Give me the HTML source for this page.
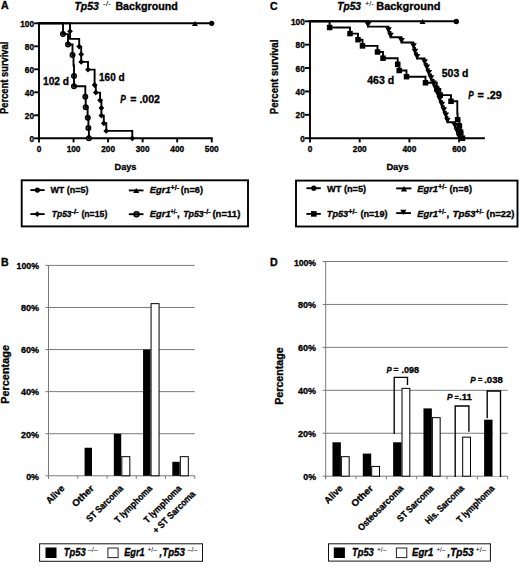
<!DOCTYPE html>
<html><head><meta charset="utf-8"><style>
html,body{margin:0;padding:0;background:#fff;width:520px;height:567px;overflow:hidden}
svg{display:block;font-family:"Liberation Sans", sans-serif}
</style></head><body>
<svg width="520" height="567" viewBox="0 0 520 567">
<rect width="520" height="567" fill="#fff"/>
<text x="1.00" y="9.40" font-size="10.6" font-weight="bold" stroke="#000" stroke-width="0.32">A</text>
<text x="74.40" y="9.80" font-size="10.6" font-weight="bold" font-style="italic" textLength="24.40" lengthAdjust="spacingAndGlyphs" stroke="#000" stroke-width="0.32">Tp53</text>
<text x="102.70" y="6.40" font-size="7.0" font-weight="normal" textLength="8.40" lengthAdjust="spacingAndGlyphs">-/-</text>
<text x="115.40" y="9.80" font-size="10.6" font-weight="bold" textLength="62.40" lengthAdjust="spacingAndGlyphs" stroke="#000" stroke-width="0.32">Background</text>
<path d="M39.0 23.3V138.3H211.75" stroke="#000" stroke-width="1.9" fill="none" stroke-linejoin="miter" stroke-linecap="square"/>
<line x1="34.20" y1="138.30" x2="39.00" y2="138.30" stroke="#000" stroke-width="1.9"/>
<text x="34.00" y="141.80" font-size="8.3" font-weight="bold" text-anchor="end" stroke="#000" stroke-width="0.32">0</text>
<line x1="34.20" y1="115.30" x2="39.00" y2="115.30" stroke="#000" stroke-width="1.9"/>
<text x="34.00" y="118.80" font-size="8.3" font-weight="bold" text-anchor="end" stroke="#000" stroke-width="0.32">20</text>
<line x1="34.20" y1="92.30" x2="39.00" y2="92.30" stroke="#000" stroke-width="1.9"/>
<text x="34.00" y="95.80" font-size="8.3" font-weight="bold" text-anchor="end" stroke="#000" stroke-width="0.32">40</text>
<line x1="34.20" y1="69.30" x2="39.00" y2="69.30" stroke="#000" stroke-width="1.9"/>
<text x="34.00" y="72.80" font-size="8.3" font-weight="bold" text-anchor="end" stroke="#000" stroke-width="0.32">60</text>
<line x1="34.20" y1="46.30" x2="39.00" y2="46.30" stroke="#000" stroke-width="1.9"/>
<text x="34.00" y="49.80" font-size="8.3" font-weight="bold" text-anchor="end" stroke="#000" stroke-width="0.32">80</text>
<line x1="34.20" y1="23.30" x2="39.00" y2="23.30" stroke="#000" stroke-width="1.9"/>
<text x="34.00" y="26.80" font-size="8.3" font-weight="bold" text-anchor="end" stroke="#000" stroke-width="0.32">100</text>
<line x1="39.00" y1="138.30" x2="39.00" y2="142.40" stroke="#000" stroke-width="1.9"/>
<text x="39.00" y="152.00" font-size="8.3" font-weight="bold" text-anchor="middle" stroke="#000" stroke-width="0.32">0</text>
<line x1="73.55" y1="138.30" x2="73.55" y2="142.40" stroke="#000" stroke-width="1.9"/>
<text x="73.55" y="152.00" font-size="8.3" font-weight="bold" text-anchor="middle" stroke="#000" stroke-width="0.32">100</text>
<line x1="108.10" y1="138.30" x2="108.10" y2="142.40" stroke="#000" stroke-width="1.9"/>
<text x="108.10" y="152.00" font-size="8.3" font-weight="bold" text-anchor="middle" stroke="#000" stroke-width="0.32">200</text>
<line x1="142.65" y1="138.30" x2="142.65" y2="142.40" stroke="#000" stroke-width="1.9"/>
<text x="142.65" y="152.00" font-size="8.3" font-weight="bold" text-anchor="middle" stroke="#000" stroke-width="0.32">300</text>
<line x1="177.20" y1="138.30" x2="177.20" y2="142.40" stroke="#000" stroke-width="1.9"/>
<text x="177.20" y="152.00" font-size="8.3" font-weight="bold" text-anchor="middle" stroke="#000" stroke-width="0.32">400</text>
<line x1="211.75" y1="138.30" x2="211.75" y2="142.40" stroke="#000" stroke-width="1.9"/>
<text x="211.75" y="152.00" font-size="8.3" font-weight="bold" text-anchor="middle" stroke="#000" stroke-width="0.32">500</text>
<text x="125.50" y="169.60" font-size="9.9" font-weight="bold" text-anchor="middle" textLength="21.90" lengthAdjust="spacingAndGlyphs" stroke="#000" stroke-width="0.32">Days</text>
<text x="8.30" y="77.80" font-size="10.2" font-weight="bold" text-anchor="middle" textLength="72.20" lengthAdjust="spacingAndGlyphs" stroke="#000" stroke-width="0.32" transform="rotate(-90 8.30 77.80)">Percent survival</text>
<text x="43.00" y="84.50" font-size="10.3" font-weight="bold" textLength="26.00" lengthAdjust="spacingAndGlyphs" stroke="#000" stroke-width="0.32">102 d</text>
<text x="99.00" y="80.70" font-size="10.3" font-weight="bold" textLength="25.60" lengthAdjust="spacingAndGlyphs" stroke="#000" stroke-width="0.32">160 d</text>
<text x="120.20" y="102.50" font-size="10.3" font-weight="bold" font-style="italic" textLength="5.60" lengthAdjust="spacingAndGlyphs" stroke="#000" stroke-width="0.32">P</text>
<text x="130.30" y="102.50" font-size="10.3" font-weight="bold" textLength="29.70" lengthAdjust="spacingAndGlyphs" stroke="#000" stroke-width="0.32">= .002</text>
<line x1="39.00" y1="23.30" x2="212.00" y2="23.30" stroke="#000" stroke-width="1.9"/>
<path d="M191.90 26.00L197.90 26.00L194.90 20.90Z" fill="#000"/>
<circle cx="211.70" cy="23.30" r="2.6" fill="#000"/>
<path d="M39 23.3H70V38.9H79.2V46.6H81.2V61.9H88V69.6H94.6V85H95.8V92.6H100.1V100.3H101.4V115.6H103.8V123.3H106.3V130.9H132.3V138.3" stroke="#000" stroke-width="1.9" fill="none" stroke-linejoin="miter" stroke-linecap="square"/>
<circle cx="63.00" cy="34.10" r="2.3" fill="#6a6a6a" stroke="#000" stroke-width="1.4"/>
<circle cx="68.00" cy="44.50" r="2.3" fill="#6a6a6a" stroke="#000" stroke-width="1.4"/>
<circle cx="72.50" cy="55.00" r="2.3" fill="#6a6a6a" stroke="#000" stroke-width="1.4"/>
<circle cx="74.00" cy="75.90" r="2.3" fill="#6a6a6a" stroke="#000" stroke-width="1.4"/>
<circle cx="74.00" cy="86.30" r="2.3" fill="#6a6a6a" stroke="#000" stroke-width="1.4"/>
<circle cx="85.30" cy="96.70" r="2.3" fill="#6a6a6a" stroke="#000" stroke-width="1.4"/>
<circle cx="85.70" cy="107.20" r="2.3" fill="#6a6a6a" stroke="#000" stroke-width="1.4"/>
<circle cx="87.80" cy="117.70" r="2.3" fill="#6a6a6a" stroke="#000" stroke-width="1.4"/>
<circle cx="88.40" cy="128.10" r="2.3" fill="#6a6a6a" stroke="#000" stroke-width="1.4"/>
<circle cx="88.90" cy="138.30" r="2.3" fill="#6a6a6a" stroke="#000" stroke-width="1.4"/>
<path d="M39 23.3H63V34.1H68V44.5H72.5V55H73.5V65.5H74V86.3H85.3V96.7H85.7V107.2H87.6V117.7H88.4V128.1H88.9V138.3" stroke="#000" stroke-width="1.9" fill="none" stroke-linejoin="miter" stroke-linecap="square"/>
<path d="M70.00 28.40L72.90 31.30L70.00 34.20L67.10 31.30Z" fill="#000"/>
<path d="M79.20 43.70L82.10 46.60L79.20 49.50L76.30 46.60Z" fill="#000"/>
<path d="M81.20 51.40L84.10 54.30L81.20 57.20L78.30 54.30Z" fill="#000"/>
<path d="M81.20 59.00L84.10 61.90L81.20 64.80L78.30 61.90Z" fill="#000"/>
<path d="M88.00 66.70L90.90 69.60L88.00 72.50L85.10 69.60Z" fill="#000"/>
<path d="M94.60 82.10L97.50 85.00L94.60 87.90L91.70 85.00Z" fill="#000"/>
<path d="M95.80 89.70L98.70 92.60L95.80 95.50L92.90 92.60Z" fill="#000"/>
<path d="M100.10 97.40L103.00 100.30L100.10 103.20L97.20 100.30Z" fill="#000"/>
<path d="M101.40 105.00L104.30 107.90L101.40 110.80L98.50 107.90Z" fill="#000"/>
<path d="M101.40 112.70L104.30 115.60L101.40 118.50L98.50 115.60Z" fill="#000"/>
<path d="M103.80 120.40L106.70 123.30L103.80 126.20L100.90 123.30Z" fill="#000"/>
<path d="M106.30 128.00L109.20 130.90L106.30 133.80L103.40 130.90Z" fill="#000"/>
<path d="M132.30 135.40L135.20 138.30L132.30 141.20L129.40 138.30Z" fill="#000"/>
<rect x="21.70" y="180.30" width="226.30" height="46.10" fill="none" stroke="#000" stroke-width="1.9"/>
<line x1="30.40" y1="190.10" x2="44.60" y2="190.10" stroke="#000" stroke-width="1.9"/>
<circle cx="37.40" cy="190.10" r="2.6" fill="#000"/>
<text x="50.40" y="193.30" font-size="9.6" font-weight="bold" textLength="38.20" lengthAdjust="spacingAndGlyphs" stroke="#000" stroke-width="0.32">WT (n=5)</text>
<line x1="30.40" y1="214.10" x2="44.60" y2="214.10" stroke="#000" stroke-width="1.9"/>
<path d="M37.30 211.30L40.10 214.10L37.30 216.90L34.50 214.10Z" fill="#000"/>
<text x="51.80" y="217.10" font-size="9.6" font-weight="bold" font-style="italic" textLength="19.80" lengthAdjust="spacingAndGlyphs" stroke="#000" stroke-width="0.32">Tp53</text>
<text x="71.40" y="213.90" font-size="6.4" font-weight="bold" textLength="7.20" lengthAdjust="spacingAndGlyphs" stroke="#000" stroke-width="0.32">-/-</text>
<text x="81.40" y="217.10" font-size="9.6" font-weight="bold" textLength="25.90" lengthAdjust="spacingAndGlyphs" stroke="#000" stroke-width="0.32">(n=15)</text>
<line x1="128.80" y1="190.40" x2="143.50" y2="190.40" stroke="#000" stroke-width="1.9"/>
<path d="M133.20 193.10L139.20 193.10L136.20 188.00Z" fill="#000"/>
<text x="149.80" y="193.30" font-size="9.6" font-weight="bold" font-style="italic" textLength="20.80" lengthAdjust="spacingAndGlyphs" stroke="#000" stroke-width="0.32">Egr1</text>
<text x="170.60" y="190.30" font-size="6.4" font-weight="bold" textLength="8.40" lengthAdjust="spacingAndGlyphs" stroke="#000" stroke-width="0.32">+/-</text>
<text x="180.80" y="193.30" font-size="9.6" font-weight="bold" textLength="22.20" lengthAdjust="spacingAndGlyphs" stroke="#000" stroke-width="0.32">(n=6)</text>
<circle cx="136.50" cy="214.20" r="2.6" fill="#6a6a6a" stroke="#000" stroke-width="1.4"/>
<line x1="128.80" y1="214.20" x2="143.50" y2="214.20" stroke="#000" stroke-width="1.9"/>
<text x="149.80" y="216.90" font-size="9.6" font-weight="bold" font-style="italic" textLength="20.80" lengthAdjust="spacingAndGlyphs" stroke="#000" stroke-width="0.32">Egr1</text>
<text x="170.60" y="213.90" font-size="6.4" font-weight="bold" textLength="6.60" lengthAdjust="spacingAndGlyphs" stroke="#000" stroke-width="0.32">+/-</text>
<text x="177.00" y="216.90" font-size="9.6" font-weight="bold" stroke="#000" stroke-width="0.32">,</text>
<text x="183.20" y="216.90" font-size="9.6" font-weight="bold" font-style="italic" textLength="20.60" lengthAdjust="spacingAndGlyphs" stroke="#000" stroke-width="0.32">Tp53</text>
<text x="203.80" y="213.90" font-size="6.4" font-weight="bold" textLength="6.80" lengthAdjust="spacingAndGlyphs" stroke="#000" stroke-width="0.32">-/-</text>
<text x="212.40" y="216.90" font-size="9.6" font-weight="bold" textLength="28.00" lengthAdjust="spacingAndGlyphs" stroke="#000" stroke-width="0.32">(n=11)</text>
<text x="270.00" y="9.60" font-size="10.6" font-weight="bold" stroke="#000" stroke-width="0.32">C</text>
<text x="337.20" y="9.60" font-size="10.8" font-weight="bold" font-style="italic" textLength="23.80" lengthAdjust="spacingAndGlyphs" stroke="#000" stroke-width="0.32">Tp53</text>
<text x="365.00" y="5.90" font-size="6.8" font-weight="normal" textLength="8.80" lengthAdjust="spacingAndGlyphs">+/-</text>
<text x="376.20" y="9.60" font-size="10.8" font-weight="bold" textLength="64.20" lengthAdjust="spacingAndGlyphs" stroke="#000" stroke-width="0.32">Background</text>
<path d="M310.0 21.3V138.2H483.95" stroke="#000" stroke-width="1.9" fill="none" stroke-linejoin="miter" stroke-linecap="square"/>
<line x1="305.00" y1="138.20" x2="310.00" y2="138.20" stroke="#000" stroke-width="1.9"/>
<text x="304.80" y="141.70" font-size="8.3" font-weight="bold" text-anchor="end" stroke="#000" stroke-width="0.32">0</text>
<line x1="305.00" y1="114.82" x2="310.00" y2="114.82" stroke="#000" stroke-width="1.9"/>
<text x="304.80" y="118.32" font-size="8.3" font-weight="bold" text-anchor="end" stroke="#000" stroke-width="0.32">20</text>
<line x1="305.00" y1="91.44" x2="310.00" y2="91.44" stroke="#000" stroke-width="1.9"/>
<text x="304.80" y="94.94" font-size="8.3" font-weight="bold" text-anchor="end" stroke="#000" stroke-width="0.32">40</text>
<line x1="305.00" y1="68.06" x2="310.00" y2="68.06" stroke="#000" stroke-width="1.9"/>
<text x="304.80" y="71.56" font-size="8.3" font-weight="bold" text-anchor="end" stroke="#000" stroke-width="0.32">60</text>
<line x1="305.00" y1="44.68" x2="310.00" y2="44.68" stroke="#000" stroke-width="1.9"/>
<text x="304.80" y="48.18" font-size="8.3" font-weight="bold" text-anchor="end" stroke="#000" stroke-width="0.32">80</text>
<line x1="305.00" y1="21.30" x2="310.00" y2="21.30" stroke="#000" stroke-width="1.9"/>
<text x="304.80" y="24.80" font-size="8.3" font-weight="bold" text-anchor="end" stroke="#000" stroke-width="0.32">100</text>
<line x1="310.00" y1="138.20" x2="310.00" y2="142.40" stroke="#000" stroke-width="1.9"/>
<text x="310.00" y="152.10" font-size="8.3" font-weight="bold" text-anchor="middle" stroke="#000" stroke-width="0.32">0</text>
<line x1="359.70" y1="138.20" x2="359.70" y2="142.40" stroke="#000" stroke-width="1.9"/>
<text x="359.70" y="152.10" font-size="8.3" font-weight="bold" text-anchor="middle" stroke="#000" stroke-width="0.32">200</text>
<line x1="409.40" y1="138.20" x2="409.40" y2="142.40" stroke="#000" stroke-width="1.9"/>
<text x="409.40" y="152.10" font-size="8.3" font-weight="bold" text-anchor="middle" stroke="#000" stroke-width="0.32">400</text>
<line x1="459.10" y1="138.20" x2="459.10" y2="142.40" stroke="#000" stroke-width="1.9"/>
<text x="459.10" y="152.10" font-size="8.3" font-weight="bold" text-anchor="middle" stroke="#000" stroke-width="0.32">600</text>
<text x="397.50" y="170.00" font-size="9.9" font-weight="bold" text-anchor="middle" textLength="22.20" lengthAdjust="spacingAndGlyphs" stroke="#000" stroke-width="0.32">Days</text>
<text x="278.10" y="76.90" font-size="10.2" font-weight="bold" text-anchor="middle" textLength="74.60" lengthAdjust="spacingAndGlyphs" stroke="#000" stroke-width="0.32" transform="rotate(-90 278.10 76.90)">Percent survival</text>
<text x="367.20" y="84.20" font-size="10.3" font-weight="bold" textLength="27.00" lengthAdjust="spacingAndGlyphs" stroke="#000" stroke-width="0.32">463 d</text>
<text x="441.80" y="76.50" font-size="10.3" font-weight="bold" textLength="26.70" lengthAdjust="spacingAndGlyphs" stroke="#000" stroke-width="0.32">503 d</text>
<text x="468.20" y="98.50" font-size="10.3" font-weight="bold" font-style="italic" textLength="5.40" lengthAdjust="spacingAndGlyphs" stroke="#000" stroke-width="0.32">P</text>
<text x="477.40" y="98.50" font-size="10.3" font-weight="bold" textLength="24.40" lengthAdjust="spacingAndGlyphs" stroke="#000" stroke-width="0.32">= .29</text>
<line x1="310.00" y1="21.30" x2="456.30" y2="21.30" stroke="#000" stroke-width="1.9"/>
<path d="M419.50 24.00L425.50 24.00L422.50 18.90Z" fill="#000"/>
<circle cx="456.30" cy="21.50" r="2.7" fill="#000"/>
<path d="M310.0 21.3H329.6V27.5H350V33.6H358V39.7H362.5V45.9H377.5V52.0H383V58.2H397.7V64.3H399.2V70.5H406.5V76.7H425.5V82.8H436.8V89.0H440.3V95.1H451V101.3H457.3V107.4H457.3V113.6H457.6V119.7H459.4V125.9H460.5V132.0H462.5V138.2" stroke="#000" stroke-width="1.9" fill="none" stroke-linejoin="miter" stroke-linecap="square"/>
<path d="M310.0 21.3H368V26.6H388.5V31.9H390.5V37.2H401.5V42.5H413.5V47.9H415V53.2H417V58.5H424.6V63.8H426.8V69.1H428.8V74.5H431V79.8H433.5V85.1H435.8V90.4H437.8V95.7H439.8V101H441.8V106.3H443.8V111.7H445.8V117H447.4V122.3H455V127.6H457V132.9H459V138.2" stroke="#000" stroke-width="1.9" fill="none" stroke-linejoin="miter" stroke-linecap="square"/>
<rect x="326.85" y="24.75" width="5.50" height="5.50" fill="#000"/>
<rect x="347.25" y="30.85" width="5.50" height="5.50" fill="#000"/>
<rect x="355.25" y="36.95" width="5.50" height="5.50" fill="#000"/>
<rect x="359.75" y="43.15" width="5.50" height="5.50" fill="#000"/>
<rect x="374.75" y="49.25" width="5.50" height="5.50" fill="#000"/>
<rect x="380.25" y="55.45" width="5.50" height="5.50" fill="#000"/>
<rect x="394.95" y="61.55" width="5.50" height="5.50" fill="#000"/>
<rect x="396.45" y="67.75" width="5.50" height="5.50" fill="#000"/>
<rect x="403.75" y="73.95" width="5.50" height="5.50" fill="#000"/>
<rect x="422.75" y="80.05" width="5.50" height="5.50" fill="#000"/>
<rect x="434.05" y="86.25" width="5.50" height="5.50" fill="#000"/>
<rect x="437.55" y="92.35" width="5.50" height="5.50" fill="#000"/>
<rect x="448.25" y="98.55" width="5.50" height="5.50" fill="#000"/>
<rect x="454.85" y="116.95" width="5.50" height="5.50" fill="#000"/>
<rect x="456.65" y="123.15" width="5.50" height="5.50" fill="#000"/>
<rect x="457.75" y="129.25" width="5.50" height="5.50" fill="#000"/>
<rect x="459.75" y="135.45" width="5.50" height="5.50" fill="#000"/>
<path d="M364.70 22.06L371.30 22.06L368.00 27.67Z" fill="#000"/>
<path d="M385.20 27.36L391.80 27.36L388.50 32.97Z" fill="#000"/>
<path d="M387.20 32.66L393.80 32.66L390.50 38.27Z" fill="#000"/>
<path d="M398.20 37.96L404.80 37.96L401.50 43.57Z" fill="#000"/>
<path d="M410.20 43.36L416.80 43.36L413.50 48.97Z" fill="#000"/>
<path d="M411.70 48.66L418.30 48.66L415.00 54.27Z" fill="#000"/>
<path d="M413.70 53.96L420.30 53.96L417.00 59.57Z" fill="#000"/>
<path d="M421.30 59.26L427.90 59.26L424.60 64.87Z" fill="#000"/>
<path d="M423.50 64.56L430.10 64.56L426.80 70.17Z" fill="#000"/>
<path d="M425.50 69.96L432.10 69.96L428.80 75.57Z" fill="#000"/>
<path d="M427.70 75.26L434.30 75.26L431.00 80.87Z" fill="#000"/>
<path d="M430.20 80.56L436.80 80.56L433.50 86.17Z" fill="#000"/>
<path d="M432.50 85.86L439.10 85.86L435.80 91.47Z" fill="#000"/>
<path d="M434.50 91.16L441.10 91.16L437.80 96.77Z" fill="#000"/>
<path d="M436.50 96.46L443.10 96.46L439.80 102.07Z" fill="#000"/>
<path d="M438.50 101.76L445.10 101.76L441.80 107.37Z" fill="#000"/>
<path d="M440.50 107.16L447.10 107.16L443.80 112.77Z" fill="#000"/>
<path d="M442.50 112.46L449.10 112.46L445.80 118.07Z" fill="#000"/>
<path d="M444.10 117.76L450.70 117.76L447.40 123.37Z" fill="#000"/>
<path d="M451.70 123.06L458.30 123.06L455.00 128.67Z" fill="#000"/>
<path d="M453.70 128.36L460.30 128.36L457.00 133.97Z" fill="#000"/>
<path d="M455.70 133.66L462.30 133.66L459.00 139.27Z" fill="#000"/>
<rect x="296.00" y="180.60" width="221.50" height="45.90" fill="none" stroke="#000" stroke-width="1.9"/>
<line x1="306.40" y1="188.20" x2="320.80" y2="188.20" stroke="#000" stroke-width="1.9"/>
<circle cx="313.80" cy="188.20" r="2.6" fill="#000"/>
<text x="327.00" y="191.60" font-size="9.6" font-weight="bold" textLength="39.20" lengthAdjust="spacingAndGlyphs" stroke="#000" stroke-width="0.32">WT (n=5)</text>
<line x1="306.40" y1="213.90" x2="320.80" y2="213.90" stroke="#000" stroke-width="1.9"/>
<rect x="311.00" y="211.10" width="5.60" height="5.60" fill="#000"/>
<text x="326.80" y="216.70" font-size="9.6" font-weight="bold" font-style="italic" textLength="21.40" lengthAdjust="spacingAndGlyphs" stroke="#000" stroke-width="0.32">Tp53</text>
<text x="348.20" y="213.50" font-size="6.4" font-weight="bold" textLength="8.80" lengthAdjust="spacingAndGlyphs" stroke="#000" stroke-width="0.32">+/-</text>
<text x="360.40" y="216.70" font-size="9.6" font-weight="bold" textLength="27.20" lengthAdjust="spacingAndGlyphs" stroke="#000" stroke-width="0.32">(n=19)</text>
<line x1="396.20" y1="188.40" x2="411.40" y2="188.40" stroke="#000" stroke-width="1.9"/>
<path d="M400.90 191.38L407.10 191.38L404.00 186.11Z" fill="#000"/>
<text x="417.20" y="191.60" font-size="9.6" font-weight="bold" font-style="italic" textLength="20.80" lengthAdjust="spacingAndGlyphs" stroke="#000" stroke-width="0.32">Egr1</text>
<text x="438.00" y="188.60" font-size="6.4" font-weight="bold" textLength="8.60" lengthAdjust="spacingAndGlyphs" stroke="#000" stroke-width="0.32">+/-</text>
<text x="449.50" y="191.60" font-size="9.6" font-weight="bold" textLength="22.50" lengthAdjust="spacingAndGlyphs" stroke="#000" stroke-width="0.32">(n=6)</text>
<line x1="396.20" y1="213.10" x2="411.00" y2="213.10" stroke="#000" stroke-width="1.9"/>
<path d="M400.20 209.82L406.40 209.82L403.30 215.09Z" fill="#000"/>
<text x="417.20" y="216.60" font-size="9.6" font-weight="bold" font-style="italic" textLength="20.80" lengthAdjust="spacingAndGlyphs" stroke="#000" stroke-width="0.32">Egr1</text>
<text x="438.00" y="213.50" font-size="6.4" font-weight="bold" textLength="8.00" lengthAdjust="spacingAndGlyphs" stroke="#000" stroke-width="0.32">+/-</text>
<text x="446.40" y="216.60" font-size="9.6" font-weight="bold" stroke="#000" stroke-width="0.32">,</text>
<text x="452.40" y="216.60" font-size="9.6" font-weight="bold" font-style="italic" textLength="23.20" lengthAdjust="spacingAndGlyphs" stroke="#000" stroke-width="0.32">Tp53</text>
<text x="475.60" y="213.50" font-size="6.4" font-weight="bold" textLength="8.00" lengthAdjust="spacingAndGlyphs" stroke="#000" stroke-width="0.32">+/-</text>
<text x="486.30" y="216.60" font-size="9.6" font-weight="bold" textLength="28.20" lengthAdjust="spacingAndGlyphs" stroke="#000" stroke-width="0.32">(n=22)</text>
<text x="1.00" y="265.60" font-size="10.6" font-weight="bold" stroke="#000" stroke-width="0.32">B</text>
<line x1="48.50" y1="433.72" x2="194.75" y2="433.72" stroke="#7a7a7a" stroke-width="1.0"/>
<line x1="48.50" y1="391.64" x2="194.75" y2="391.64" stroke="#7a7a7a" stroke-width="1.0"/>
<line x1="48.50" y1="349.56" x2="194.75" y2="349.56" stroke="#7a7a7a" stroke-width="1.0"/>
<line x1="48.50" y1="307.48" x2="194.75" y2="307.48" stroke="#7a7a7a" stroke-width="1.0"/>
<line x1="48.50" y1="265.40" x2="194.75" y2="265.40" stroke="#7a7a7a" stroke-width="1.0"/>

<line x1="45.40" y1="475.80" x2="48.50" y2="475.80" stroke="#7a7a7a" stroke-width="1.0"/>
<line x1="45.40" y1="433.72" x2="48.50" y2="433.72" stroke="#7a7a7a" stroke-width="1.0"/>
<line x1="45.40" y1="391.64" x2="48.50" y2="391.64" stroke="#7a7a7a" stroke-width="1.0"/>
<line x1="45.40" y1="349.56" x2="48.50" y2="349.56" stroke="#7a7a7a" stroke-width="1.0"/>
<line x1="45.40" y1="307.48" x2="48.50" y2="307.48" stroke="#7a7a7a" stroke-width="1.0"/>
<line x1="45.40" y1="265.40" x2="48.50" y2="265.40" stroke="#7a7a7a" stroke-width="1.0"/>
<line x1="48.50" y1="265.40" x2="48.50" y2="478.80" stroke="#7a7a7a" stroke-width="1.0"/>
<line x1="48.50" y1="475.80" x2="194.75" y2="475.80" stroke="#7a7a7a" stroke-width="1.0"/>
<line x1="48.50" y1="475.80" x2="48.50" y2="478.80" stroke="#7a7a7a" stroke-width="1.0"/>
<line x1="77.75" y1="475.80" x2="77.75" y2="478.80" stroke="#7a7a7a" stroke-width="1.0"/>
<line x1="107.00" y1="475.80" x2="107.00" y2="478.80" stroke="#7a7a7a" stroke-width="1.0"/>
<line x1="136.25" y1="475.80" x2="136.25" y2="478.80" stroke="#7a7a7a" stroke-width="1.0"/>
<line x1="165.50" y1="475.80" x2="165.50" y2="478.80" stroke="#7a7a7a" stroke-width="1.0"/>
<line x1="194.75" y1="475.80" x2="194.75" y2="478.80" stroke="#7a7a7a" stroke-width="1.0"/>
<text x="39.00" y="479.60" font-size="8.6" font-weight="bold" text-anchor="end" textLength="12.80" lengthAdjust="spacingAndGlyphs" stroke="#000" stroke-width="0.32">0%</text>
<text x="39.00" y="437.52" font-size="8.6" font-weight="bold" text-anchor="end" textLength="18.00" lengthAdjust="spacingAndGlyphs" stroke="#000" stroke-width="0.32">20%</text>
<text x="39.00" y="395.44" font-size="8.6" font-weight="bold" text-anchor="end" textLength="18.00" lengthAdjust="spacingAndGlyphs" stroke="#000" stroke-width="0.32">40%</text>
<text x="39.00" y="353.36" font-size="8.6" font-weight="bold" text-anchor="end" textLength="18.00" lengthAdjust="spacingAndGlyphs" stroke="#000" stroke-width="0.32">60%</text>
<text x="39.00" y="311.28" font-size="8.6" font-weight="bold" text-anchor="end" textLength="18.00" lengthAdjust="spacingAndGlyphs" stroke="#000" stroke-width="0.32">80%</text>
<text x="39.00" y="269.20" font-size="8.6" font-weight="bold" text-anchor="end" textLength="22.40" lengthAdjust="spacingAndGlyphs" stroke="#000" stroke-width="0.32">100%</text>
<text x="8.90" y="374.40" font-size="10.8" font-weight="bold" text-anchor="middle" textLength="58.80" lengthAdjust="spacingAndGlyphs" stroke="#000" stroke-width="0.32" transform="rotate(-90 8.90 374.40)">Percentage</text>
<rect x="84.58" y="447.75" width="7.40" height="28.05" fill="#000" stroke="none" stroke-width="1"/>
<rect x="113.83" y="433.72" width="7.40" height="42.08" fill="#000" stroke="none" stroke-width="1"/>
<rect x="121.83" y="456.67" width="8.00" height="19.13" fill="#fff" stroke="#000" stroke-width="1.0"/>
<rect x="143.07" y="349.56" width="7.40" height="126.24" fill="#000" stroke="none" stroke-width="1"/>
<rect x="151.07" y="303.65" width="8.00" height="172.15" fill="#fff" stroke="#000" stroke-width="1.0"/>
<rect x="172.32" y="461.77" width="7.40" height="14.03" fill="#000" stroke="none" stroke-width="1"/>
<rect x="180.32" y="456.67" width="8.00" height="19.13" fill="#fff" stroke="#000" stroke-width="1.0"/>
<text x="65.12" y="489.00" font-size="9.4" font-weight="bold" text-anchor="end" textLength="21.60" lengthAdjust="spacingAndGlyphs" stroke="#000" stroke-width="0.32" transform="rotate(-45 65.12 489.00)">Alive</text>
<text x="94.38" y="489.00" font-size="9.4" font-weight="bold" text-anchor="end" textLength="26.30" lengthAdjust="spacingAndGlyphs" stroke="#000" stroke-width="0.32" transform="rotate(-45 94.38 489.00)">Other</text>
<text x="123.62" y="489.00" font-size="9.4" font-weight="bold" text-anchor="end" textLength="47.47" lengthAdjust="spacingAndGlyphs" stroke="#000" stroke-width="0.32" transform="rotate(-45 123.62 489.00)">ST Sarcoma</text>
<text x="152.88" y="489.00" font-size="9.4" font-weight="bold" text-anchor="end" textLength="49.00" lengthAdjust="spacingAndGlyphs" stroke="#000" stroke-width="0.32" transform="rotate(-45 152.88 489.00)">T lymphoma</text>
<text x="182.12" y="489.00" font-size="9.4" font-weight="bold" text-anchor="end" textLength="49.00" lengthAdjust="spacingAndGlyphs" stroke="#000" stroke-width="0.32" transform="rotate(-45 182.12 489.00)">T lymphoma</text>
<text x="195.90" y="494.60" font-size="9.4" font-weight="bold" text-anchor="end" textLength="55.70" lengthAdjust="spacingAndGlyphs" stroke="#000" stroke-width="0.32" transform="rotate(-45 195.90 494.60)">+ ST Sarcoma</text>
<rect x="39.60" y="543.80" width="162.90" height="17.50" fill="none" stroke="#111" stroke-width="1.0"/>
<rect x="45.50" y="547.50" width="11.00" height="10.50" fill="#000" stroke="none" stroke-width="1"/>
<text x="63.80" y="555.50" font-size="10.2" font-weight="bold" font-style="italic" textLength="21.80" lengthAdjust="spacingAndGlyphs" stroke="#000" stroke-width="0.32">Tp53</text>
<text x="87.80" y="552.40" font-size="7.2" font-weight="normal" textLength="10.00" lengthAdjust="spacingAndGlyphs">–/–</text>
<rect x="107.90" y="548.00" width="10.20" height="9.60" fill="#fff" stroke="#222" stroke-width="1.0"/>
<text x="124.20" y="555.50" font-size="10.2" font-weight="bold" font-style="italic" textLength="20.40" lengthAdjust="spacingAndGlyphs" stroke="#000" stroke-width="0.32">Egr1</text>
<text x="147.40" y="552.40" font-size="7.2" font-weight="normal" textLength="9.60" lengthAdjust="spacingAndGlyphs">+/–</text>
<text x="159.60" y="555.50" font-size="10.2" font-weight="bold" font-style="italic" textLength="25.20" lengthAdjust="spacingAndGlyphs" stroke="#000" stroke-width="0.32">,Tp53</text>
<text x="187.60" y="552.40" font-size="7.2" font-weight="normal" textLength="9.80" lengthAdjust="spacingAndGlyphs">–/–</text>
<text x="270.00" y="266.20" font-size="10.6" font-weight="bold" stroke="#000" stroke-width="0.32">D</text>
<line x1="325.70" y1="433.26" x2="507.68" y2="433.26" stroke="#7a7a7a" stroke-width="1.0"/>
<line x1="325.70" y1="390.32" x2="507.68" y2="390.32" stroke="#7a7a7a" stroke-width="1.0"/>
<line x1="325.70" y1="347.38" x2="507.68" y2="347.38" stroke="#7a7a7a" stroke-width="1.0"/>
<line x1="325.70" y1="304.44" x2="507.68" y2="304.44" stroke="#7a7a7a" stroke-width="1.0"/>
<line x1="325.70" y1="261.50" x2="507.68" y2="261.50" stroke="#7a7a7a" stroke-width="1.0"/>

<line x1="322.60" y1="476.20" x2="325.70" y2="476.20" stroke="#7a7a7a" stroke-width="1.0"/>
<line x1="322.60" y1="433.26" x2="325.70" y2="433.26" stroke="#7a7a7a" stroke-width="1.0"/>
<line x1="322.60" y1="390.32" x2="325.70" y2="390.32" stroke="#7a7a7a" stroke-width="1.0"/>
<line x1="322.60" y1="347.38" x2="325.70" y2="347.38" stroke="#7a7a7a" stroke-width="1.0"/>
<line x1="322.60" y1="304.44" x2="325.70" y2="304.44" stroke="#7a7a7a" stroke-width="1.0"/>
<line x1="322.60" y1="261.50" x2="325.70" y2="261.50" stroke="#7a7a7a" stroke-width="1.0"/>
<line x1="325.70" y1="261.50" x2="325.70" y2="479.20" stroke="#7a7a7a" stroke-width="1.0"/>
<line x1="325.70" y1="476.20" x2="507.68" y2="476.20" stroke="#7a7a7a" stroke-width="1.0"/>
<line x1="325.70" y1="476.20" x2="325.70" y2="479.20" stroke="#7a7a7a" stroke-width="1.0"/>
<line x1="356.03" y1="476.20" x2="356.03" y2="479.20" stroke="#7a7a7a" stroke-width="1.0"/>
<line x1="386.36" y1="476.20" x2="386.36" y2="479.20" stroke="#7a7a7a" stroke-width="1.0"/>
<line x1="416.69" y1="476.20" x2="416.69" y2="479.20" stroke="#7a7a7a" stroke-width="1.0"/>
<line x1="447.02" y1="476.20" x2="447.02" y2="479.20" stroke="#7a7a7a" stroke-width="1.0"/>
<line x1="477.35" y1="476.20" x2="477.35" y2="479.20" stroke="#7a7a7a" stroke-width="1.0"/>
<line x1="507.68" y1="476.20" x2="507.68" y2="479.20" stroke="#7a7a7a" stroke-width="1.0"/>
<text x="316.10" y="480.20" font-size="8.6" font-weight="bold" text-anchor="end" textLength="12.80" lengthAdjust="spacingAndGlyphs" stroke="#000" stroke-width="0.32">0%</text>
<text x="316.10" y="437.26" font-size="8.6" font-weight="bold" text-anchor="end" textLength="18.00" lengthAdjust="spacingAndGlyphs" stroke="#000" stroke-width="0.32">20%</text>
<text x="316.10" y="394.32" font-size="8.6" font-weight="bold" text-anchor="end" textLength="18.00" lengthAdjust="spacingAndGlyphs" stroke="#000" stroke-width="0.32">40%</text>
<text x="316.10" y="351.38" font-size="8.6" font-weight="bold" text-anchor="end" textLength="18.00" lengthAdjust="spacingAndGlyphs" stroke="#000" stroke-width="0.32">60%</text>
<text x="316.10" y="308.44" font-size="8.6" font-weight="bold" text-anchor="end" textLength="18.00" lengthAdjust="spacingAndGlyphs" stroke="#000" stroke-width="0.32">80%</text>
<text x="316.10" y="265.50" font-size="8.6" font-weight="bold" text-anchor="end" textLength="22.20" lengthAdjust="spacingAndGlyphs" stroke="#000" stroke-width="0.32">100%</text>
<text x="283.40" y="376.00" font-size="10.8" font-weight="bold" text-anchor="middle" textLength="57.50" lengthAdjust="spacingAndGlyphs" stroke="#000" stroke-width="0.32" transform="rotate(-90 283.40 376.00)">Percentage</text>
<rect x="332.47" y="442.30" width="8.40" height="33.90" fill="#000" stroke="none" stroke-width="1"/>
<rect x="341.37" y="456.68" width="7.80" height="19.52" fill="#fff" stroke="#000" stroke-width="1.0"/>
<rect x="362.80" y="453.59" width="8.40" height="22.61" fill="#000" stroke="none" stroke-width="1"/>
<rect x="371.69" y="466.43" width="7.80" height="9.77" fill="#fff" stroke="#000" stroke-width="1.0"/>
<rect x="393.12" y="442.30" width="8.40" height="33.90" fill="#000" stroke="none" stroke-width="1"/>
<rect x="402.02" y="388.37" width="7.80" height="87.83" fill="#fff" stroke="#000" stroke-width="1.0"/>
<rect x="423.46" y="408.40" width="8.40" height="67.80" fill="#000" stroke="none" stroke-width="1"/>
<rect x="432.36" y="417.65" width="7.80" height="58.55" fill="#fff" stroke="#000" stroke-width="1.0"/>
<rect x="462.68" y="437.17" width="7.80" height="39.03" fill="#fff" stroke="#000" stroke-width="1.0"/>
<rect x="484.12" y="419.69" width="8.40" height="56.51" fill="#000" stroke="none" stroke-width="1"/>
<rect x="493.00" y="391.00" width="7.50" height="85.20" fill="#fff" stroke="none" stroke-width="1"/>
<path d="M487.2 417.5V391H500.5V476.2" stroke="#000" stroke-width="1.35" fill="none" stroke-linejoin="miter" stroke-linecap="square"/>
<path d="M394.2 433.4V377.4H407.5V384.4" stroke="#000" stroke-width="1.35" fill="none" stroke-linejoin="miter" stroke-linecap="square"/>
<path d="M455.2 476.2V406H468.9V431" stroke="#000" stroke-width="1.35" fill="none" stroke-linejoin="miter" stroke-linecap="square"/>
<text x="386.40" y="372.50" font-size="8.8" font-weight="bold" font-style="italic" textLength="5.20" lengthAdjust="spacingAndGlyphs" stroke="#000" stroke-width="0.32">P</text>
<text x="393.40" y="372.40" font-size="7.6" font-weight="bold" textLength="5.00" lengthAdjust="spacingAndGlyphs" stroke="#000" stroke-width="0.32">=</text>
<text x="401.40" y="372.50" font-size="8.8" font-weight="bold" textLength="17.60" lengthAdjust="spacingAndGlyphs" stroke="#000" stroke-width="0.32">.098</text>
<text x="446.90" y="400.30" font-size="8.8" font-weight="bold" font-style="italic" textLength="5.60" lengthAdjust="spacingAndGlyphs" stroke="#000" stroke-width="0.32">P</text>
<text x="454.60" y="400.20" font-size="7.6" font-weight="bold" textLength="4.20" lengthAdjust="spacingAndGlyphs" stroke="#000" stroke-width="0.32">=</text>
<text x="459.00" y="400.30" font-size="8.8" font-weight="bold" textLength="12.80" lengthAdjust="spacingAndGlyphs" stroke="#000" stroke-width="0.32">.11</text>
<text x="470.30" y="382.50" font-size="8.8" font-weight="bold" font-style="italic" textLength="5.40" lengthAdjust="spacingAndGlyphs" stroke="#000" stroke-width="0.32">P</text>
<text x="478.00" y="382.40" font-size="7.6" font-weight="bold" textLength="4.20" lengthAdjust="spacingAndGlyphs" stroke="#000" stroke-width="0.32">=</text>
<text x="484.20" y="382.50" font-size="8.8" font-weight="bold" textLength="18.60" lengthAdjust="spacingAndGlyphs" stroke="#000" stroke-width="0.32">.038</text>
<text x="343.37" y="488.90" font-size="9.4" font-weight="bold" text-anchor="end" textLength="21.60" lengthAdjust="spacingAndGlyphs" stroke="#000" stroke-width="0.32" transform="rotate(-45 343.37 488.90)">Alive</text>
<text x="373.69" y="488.90" font-size="9.4" font-weight="bold" text-anchor="end" textLength="26.30" lengthAdjust="spacingAndGlyphs" stroke="#000" stroke-width="0.32" transform="rotate(-45 373.69 488.90)">Other</text>
<text x="404.02" y="488.90" font-size="9.4" font-weight="bold" text-anchor="end" textLength="60.28" lengthAdjust="spacingAndGlyphs" stroke="#000" stroke-width="0.32" transform="rotate(-45 404.02 488.90)">Osteosarcoma</text>
<text x="434.36" y="488.90" font-size="9.4" font-weight="bold" text-anchor="end" textLength="47.47" lengthAdjust="spacingAndGlyphs" stroke="#000" stroke-width="0.32" transform="rotate(-45 434.36 488.90)">ST Sarcoma</text>
<text x="464.68" y="488.90" font-size="9.4" font-weight="bold" text-anchor="end" textLength="50.81" lengthAdjust="spacingAndGlyphs" stroke="#000" stroke-width="0.32" transform="rotate(-45 464.68 488.90)">His. Sarcoma</text>
<text x="495.01" y="488.90" font-size="9.4" font-weight="bold" text-anchor="end" textLength="49.00" lengthAdjust="spacingAndGlyphs" stroke="#000" stroke-width="0.32" transform="rotate(-45 495.01 488.90)">T lymphoma</text>
<rect x="328.50" y="543.80" width="161.90" height="17.30" fill="none" stroke="#111" stroke-width="1.0"/>
<rect x="333.80" y="547.50" width="11.10" height="10.50" fill="#000" stroke="none" stroke-width="1"/>
<text x="352.00" y="555.50" font-size="10.2" font-weight="bold" font-style="italic" textLength="21.80" lengthAdjust="spacingAndGlyphs" stroke="#000" stroke-width="0.32">Tp53</text>
<text x="377.00" y="552.40" font-size="7.2" font-weight="normal" textLength="9.30" lengthAdjust="spacingAndGlyphs">+/–</text>
<rect x="396.40" y="548.00" width="10.40" height="9.60" fill="#fff" stroke="#222" stroke-width="1.0"/>
<text x="412.10" y="555.50" font-size="10.2" font-weight="bold" font-style="italic" textLength="21.20" lengthAdjust="spacingAndGlyphs" stroke="#000" stroke-width="0.32">Egr1</text>
<text x="436.40" y="552.40" font-size="7.2" font-weight="normal" textLength="9.00" lengthAdjust="spacingAndGlyphs">+/–</text>
<text x="447.40" y="555.50" font-size="10.2" font-weight="bold" font-style="italic" textLength="26.20" lengthAdjust="spacingAndGlyphs" stroke="#000" stroke-width="0.32">,Tp53</text>
<text x="475.50" y="552.40" font-size="7.2" font-weight="normal" textLength="10.60" lengthAdjust="spacingAndGlyphs">+/–</text>
</svg>
</body></html>
